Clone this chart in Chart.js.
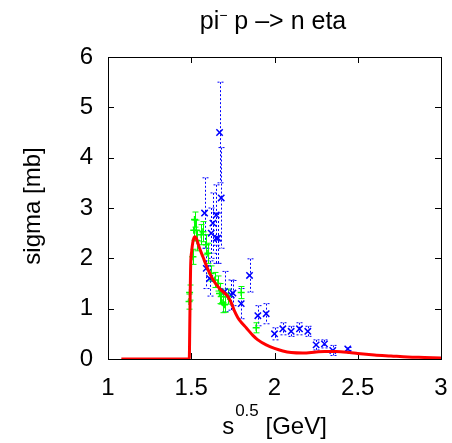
<!DOCTYPE html>
<html>
<head>
<meta charset="utf-8">
<script src="https://cdn.jsdelivr.net/npm/chart.js@4.4.0/dist/chart.umd.min.js"></script>
<style>
body { margin: 0; background: #fff; }
#wrap { width: 452px; height: 443px; }
</style>
</head>
<body>
<div id="wrap"><canvas id="c"></canvas></div>
<script>
// model curve
const curveX = [1.08, 1.2, 1.3, 1.4, 1.488, 1.492, 1.496, 1.503, 1.51, 1.52, 1.53, 1.54, 1.55, 1.57, 1.6, 1.63, 1.67, 1.7, 1.72, 1.74, 1.76, 1.78, 1.8, 1.83, 1.87, 1.9, 1.95, 2.0, 2.05, 2.1, 2.17, 2.25, 2.3, 2.37, 2.45, 2.5, 2.6, 2.7, 2.8, 2.9, 3.0];
const curveY = [0, 0, 0, 0, 0, 0.9, 1.8, 2.15, 2.33, 2.43, 2.4, 2.3, 2.2, 2.03, 1.78, 1.58, 1.4, 1.31, 1.24, 1.12, 0.95, 0.82, 0.73, 0.62, 0.47, 0.38, 0.28, 0.21, 0.16, 0.13, 0.12, 0.14, 0.15, 0.15, 0.13, 0.11, 0.08, 0.06, 0.04, 0.03, 0.02];

// blue data set (x marks, dotted errors)
const blueX = [1.58, 1.59, 1.61, 1.62, 1.63, 1.65, 1.65, 1.66, 1.67, 1.68, 1.70, 1.74, 1.75, 1.80, 1.85, 1.90, 1.95, 2.00, 2.05, 2.10, 2.15, 2.20, 2.25, 2.30, 2.35, 2.44];
const blueY = [2.9, 1.8, 1.6, 2.5, 2.7, 2.86, 2.4, 2.4, 4.5, 3.2, 1.34, 1.27, 1.31, 1.1, 1.66, 0.86, 0.9, 0.5, 0.6, 0.55, 0.6, 0.55, 0.28, 0.3, 0.17, 0.2];
const blueErr = [0.7, 0.4, 0.35, 0.5, 0.6, 0.6, 0.5, 0.5, 1.0, 1.0, 0.4, 0.3, 0.25, 0.3, 0.33, 0.2, 0.2, 0.12, 0.12, 0.1, 0.12, 0.1, 0.1, 0.08, 0.1, 0.03];

// green data set (+ marks, solid errors)
const greenX = [1.487, 1.49, 1.51, 1.515, 1.52, 1.53, 1.535, 1.56, 1.57, 1.59, 1.60, 1.62, 1.64, 1.66, 1.67, 1.68, 1.69, 1.70, 1.72, 1.80, 1.89];
const greenY = [1.14, 1.32, 2.03, 2.56, 2.77, 2.56, 2.35, 2.47, 2.53, 2.27, 2.1, 1.7, 1.57, 1.5, 1.3, 1.24, 1.12, 1.08, 1.24, 1.32, 0.62];
const greenErr = [0.15, 0.15, 0.15, 0.2, 0.15, 0.2, 0.2, 0.2, 0.2, 0.2, 0.2, 0.15, 0.15, 0.15, 0.2, 0.15, 0.2, 0.15, 0.15, 0.12, 0.1];

const xTicks = [1, 1.5, 2, 2.5, 3];
const yTicks = [0, 1, 2, 3, 4, 5, 6];

const FONT = "'Liberation Sans', Arial, sans-serif";

function toPts(xs, ys) {
    return xs.map((v, i) => ({x: v, y: ys[i]}));
}

function drawBars(ctx, sx, sy, px, py, pe, color, dash) {
    ctx.strokeStyle = color;
    ctx.lineWidth = 1;
    ctx.setLineDash(dash);
    for (let i = 0; i < px.length; i++) {
        const cx = Math.round(sx.getPixelForValue(px[i])) + 0.5;
        const top = sy.getPixelForValue(py[i] + pe[i]);
        const bot = sy.getPixelForValue(py[i] - pe[i]);
        ctx.beginPath();
        ctx.moveTo(cx, top); ctx.lineTo(cx, bot);
        ctx.moveTo(cx - 3, top); ctx.lineTo(cx + 3, top);
        ctx.moveTo(cx - 3, bot); ctx.lineTo(cx + 3, bot);
        ctx.stroke();
    }
    ctx.setLineDash([]);
}

// frame, inward ticks and error bars, under the marks
const framePlugin = {
    id: 'frame',
    beforeDatasetsDraw(chart) {
        const {ctx, chartArea: a, scales: {x, y}} = chart;
        ctx.save();
        ctx.strokeStyle = '#000';
        ctx.lineWidth = 1;
        ctx.strokeRect(Math.round(a.left) + 0.5, Math.round(a.top) + 0.5, Math.round(a.width), Math.round(a.height));
        ctx.beginPath();
        xTicks.forEach(v => {
            const px = Math.round(x.getPixelForValue(v)) + 0.5;
            ctx.moveTo(px, a.bottom); ctx.lineTo(px, a.bottom - 6);
            ctx.moveTo(px, a.top); ctx.lineTo(px, a.top + 6);
        });
        yTicks.forEach(v => {
            const py = Math.round(y.getPixelForValue(v)) + 0.5;
            ctx.moveTo(a.left, py); ctx.lineTo(a.left + 6, py);
            ctx.moveTo(a.right, py); ctx.lineTo(a.right - 6, py);
        });
        ctx.stroke();
        ctx.beginPath();
        ctx.rect(a.left, a.top, a.width, a.height);
        ctx.clip();
        drawBars(ctx, x, y, blueX, blueY, blueErr, '#0000ff', [2, 2]);
        drawBars(ctx, x, y, greenX, greenY, greenErr, '#00ff00', []);
        ctx.restore();
    }
};

// title and axis labels (need superscripts)
const labelPlugin = {
    id: 'labels',
    afterDraw(chart) {
        const ctx = chart.ctx;
        ctx.save();
        ctx.fillStyle = '#000';
        ctx.textBaseline = 'alphabetic';
        ctx.textAlign = 'left';

        // title: pi^- p -> n eta
        const big = '24px ' + FONT, small = '14px ' + FONT;
        ctx.font = '25px ' + FONT;
        const w1 = ctx.measureText('pi').width;
        const w3 = ctx.measureText(' p –> n eta').width;
        ctx.font = small;
        const w2 = ctx.measureText('−').width;
        let tx = 273 - (w1 + w2 + w3) / 2;
        ctx.font = '25px ' + FONT;
        ctx.fillText('pi', tx, 29);
        ctx.font = small;
        ctx.fillText('−', tx + w1, 20);
        ctx.font = '25px ' + FONT;
        ctx.fillText(' p –> n eta', tx + w1 + w2, 29);

        // x label: s^0.5 [GeV]
        const sup = '17px ' + FONT;
        ctx.font = big;
        const a1 = ctx.measureText('s').width;
        const a3 = ctx.measureText(' [GeV]').width;
        ctx.font = sup;
        const a2 = ctx.measureText('0.5').width;
        let lx = 274 - (a1 + a2 + a3) / 2;
        ctx.font = big;
        ctx.fillText('s', lx, 434);
        ctx.font = sup;
        ctx.fillText('0.5', lx + a1 + 1, 416);
        ctx.font = big;
        ctx.fillText(' [GeV]', lx + a1 + a2 + 1, 434);

        // y label
        ctx.translate(40, 206);
        ctx.rotate(-Math.PI / 2);
        ctx.textAlign = 'center';
        ctx.font = big;
        ctx.fillText('sigma [mb]', 0, 0);
        ctx.restore();
    }
};

new Chart(document.getElementById('c'), {
    type: 'scatter',
    data: {
        datasets: [
            {
                type: 'line',
                data: toPts(curveX, curveY),
                borderColor: '#ff0000',
                borderWidth: 3,
                pointRadius: 0,
                cubicInterpolationMode: 'monotone',
                fill: false
            },
            {
                data: toPts(greenX, greenY),
                pointStyle: 'cross',
                pointRadius: 3.5,
                borderColor: '#00ff00',
                backgroundColor: '#00ff00',
                pointBorderWidth: 1.5
            },
            {
                data: toPts(blueX, blueY),
                pointStyle: 'crossRot',
                pointRadius: 4.5,
                borderColor: '#0000ff',
                backgroundColor: '#0000ff',
                pointBorderWidth: 1.5
            }
        ]
    },
    options: {
        responsive: true,
        maintainAspectRatio: false,
        animation: false,
        layout: { padding: { top: 57, right: 11, left: 0, bottom: 0 } },
        plugins: {
            legend: { display: false },
            tooltip: { enabled: false }
        },
        scales: {
            x: {
                type: 'linear',
                min: 1, max: 3,
                afterBuildTicks: axis => { axis.ticks = xTicks.map(v => ({value: v})); },
                afterFit: scale => { scale.height = 84; scale.paddingLeft = 0; scale.paddingRight = 0; },
                grid: { display: false, drawTicks: false },
                border: { display: false },
                ticks: { color: '#000', padding: 15, maxRotation: 0, callback: v => String(v), font: { family: FONT, size: 24 } }
            },
            y: {
                type: 'linear',
                min: 0, max: 6,
                afterBuildTicks: axis => { axis.ticks = yTicks.map(v => ({value: v})); },
                afterFit: scale => { scale.width = 108; },
                grid: { display: false, drawTicks: false },
                border: { display: false },
                ticks: { color: '#000', padding: 15, callback: v => String(v), font: { family: FONT, size: 24 } }
            }
        }
    },
    plugins: [framePlugin, labelPlugin]
});
</script>
</body>
</html>
